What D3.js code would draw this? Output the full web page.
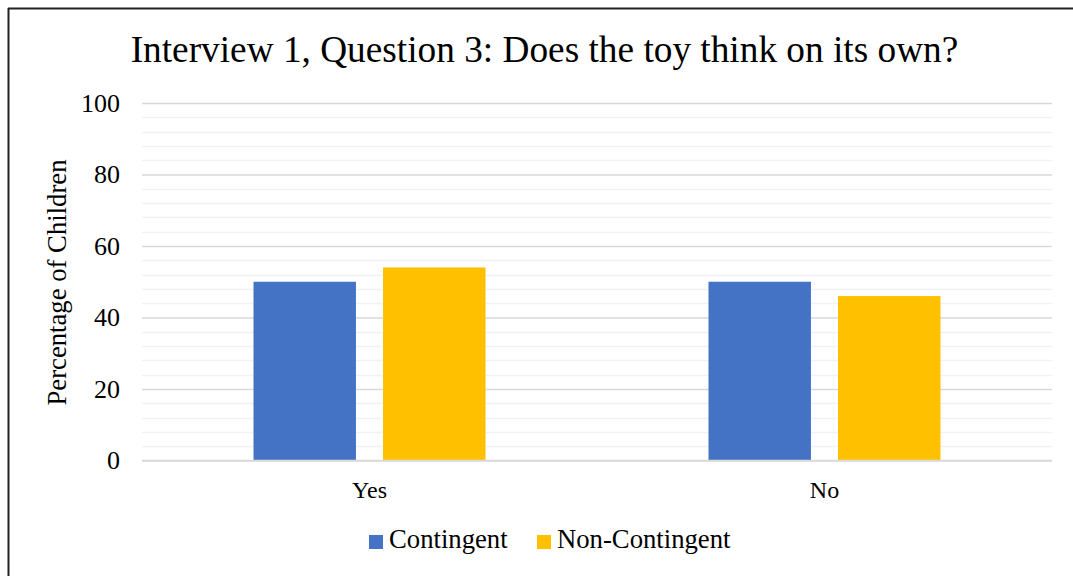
<!DOCTYPE html>
<html>
<head>
<meta charset="utf-8">
<script src="https://cdn.jsdelivr.net/npm/d3@7"></script>
<style>
  html, body { margin: 0; padding: 0; background: #fff; }
  svg { display: block; }
  text { font-family: "Liberation Serif", "Times New Roman", serif; fill: #000; }
</style>
</head>
<body>
<svg id="chart" width="1073" height="576"></svg>
<script>
const categories = ["Yes", "No"];
const seriesNames = ["Contingent", "Non-Contingent"];
const contingent = [50, 50];
const nonContingent = [54, 46];
const colors = ["#4472C4", "#FFC000"];
const yTicks = [0, 20, 40, 60, 80, 100];
const minorTicks = d3.range(0, 101, 4);
const titleText = "Interview 1, Question 3: Does the toy think on its own?";
const yTitle = "Percentage of Children";

const svg = d3.select("#chart");
const W = 1073, H = 576;
const plot = { left: 142, right: 1052, top: 103, bottom: 460.5 };

// border (top and left only visible)
svg.append("line").attr("x1", 8).attr("x2", W).attr("y1", 8.5).attr("y2", 8.5)
  .attr("stroke", "#222").attr("stroke-width", 2);
svg.append("line").attr("x1", 8.5).attr("x2", 8.5).attr("y1", 8).attr("y2", H)
  .attr("stroke", "#222").attr("stroke-width", 2);

const y = d3.scaleLinear().domain([0, 100]).range([plot.bottom, plot.top]);
const x0 = d3.scaleBand().domain(categories).range([plot.left, plot.right]).padding(0);
const groupW = 232;
const x1 = d3.scaleBand().domain(seriesNames).range([0, groupW]).paddingInner(27 / 129).paddingOuter(0);

// minor gridlines
svg.append("g").selectAll("line").data(minorTicks.filter(d => d % 20 !== 0)).join("line")
  .attr("x1", plot.left).attr("x2", plot.right)
  .attr("y1", d => Math.round(y(d)) + 0.5).attr("y2", d => Math.round(y(d)) + 0.5)
  .attr("stroke", "#F2F2F2").attr("stroke-width", 1.5);

// major gridlines via axis
const yAxis = d3.axisLeft(y).tickValues(yTicks).tickSize(-(plot.right - plot.left)).tickPadding(22).tickFormat(d3.format("d"));
const gy = svg.append("g").attr("transform", `translate(${plot.left},0)`).call(yAxis);
gy.select(".domain").remove();
gy.selectAll(".tick line").attr("stroke", "#D9D9D9").attr("stroke-width", 1.5);
gy.selectAll(".tick text").attr("font-size", 26).attr("font-family", "Liberation Serif").attr("fill", "#000");

// bars
const data = categories.map((c, i) => ({ cat: c, vals: [contingent[i], nonContingent[i]] }));
const groups = svg.append("g").selectAll("g").data(data).join("g")
  .attr("transform", d => `translate(${x0(d.cat) + (x0.bandwidth() - groupW) / 2},0)`);
groups.selectAll("rect").data(d => d.vals.map((v, j) => ({ s: seriesNames[j], v, j }))).join("rect")
  .attr("x", d => x1(d.s))
  .attr("width", x1.bandwidth())
  .attr("y", d => y(d.v))
  .attr("height", d => y(0) - y(d.v))
  .attr("fill", d => colors[d.j]);

// baseline
svg.append("line").attr("x1", plot.left).attr("x2", plot.right)
  .attr("y1", plot.bottom).attr("y2", plot.bottom)
  .attr("stroke", "#D9D9D9").attr("stroke-width", 1.5);

// x axis labels
const xAxis = d3.axisBottom(x0).tickSize(0).tickPadding(20);
const gx = svg.append("g").attr("transform", `translate(0,${plot.bottom})`).call(xAxis);
gx.select(".domain").remove();
gx.selectAll(".tick text").attr("font-size", 24).attr("font-family", "Liberation Serif").attr("fill", "#000");

// title
svg.append("text").attr("x", 544.5).attr("y", 62).attr("text-anchor", "middle")
  .attr("font-size", 37.3).text(titleText);

// y title
svg.append("text").attr("transform", `translate(66,282.5) rotate(-90)`)
  .attr("text-anchor", "middle").attr("font-size", 26.7).text(yTitle);

// legend
const legendItems = [
  { name: seriesNames[0], color: colors[0], x: 369 },
  { name: seriesNames[1], color: colors[1], x: 537 }
];
const lg = svg.append("g").selectAll("g").data(legendItems).join("g")
  .attr("transform", d => `translate(${d.x},0)`);
lg.append("rect").attr("x", 0).attr("y", 535).attr("width", 14).attr("height", 14).attr("fill", d => d.color);
lg.append("text").attr("x", 20).attr("y", 548).attr("font-size", 26.7).text(d => d.name);
</script>
</body>
</html>
